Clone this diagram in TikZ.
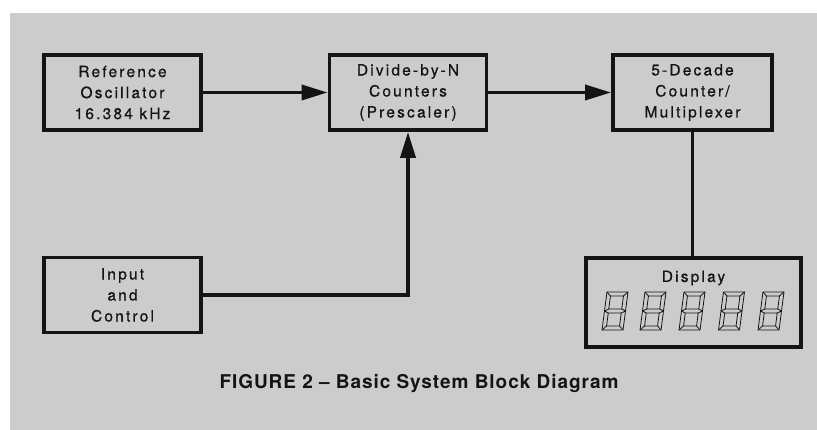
\documentclass[tikz,border=0pt]{standalone}
\usepackage{fontspec}
\setmainfont{TeX Gyre Heros}[LetterSpace=14, UprightFeatures={FakeBold=0.7}]
\newfontfamily\capfont{TeX Gyre Heros}[LetterSpace=5]
\usetikzlibrary{arrows.meta}
\definecolor{paper}{gray}{0.80}
\definecolor{ink}{gray}{0.08}
\tikzset{
  blk/.style={draw=ink, line width=3.8pt, minimum width=157pt, minimum height=75pt,
    align=center, text=ink, font=\fontsize{15.5}{21}\selectfont, inner sep=0pt},
  wire/.style={draw=ink, line width=3.6pt},
  arr/.style={wire, -{Triangle[length=26pt,width=15pt]}},
  seg/.style={draw=ink, line width=0.8pt, line join=round},
}
\newcommand\segdigit[2]{%
  \begin{scope}[shift={(#1,#2)}, xslant=0.13]
    \draw[seg] (-10.5,-19) rectangle (10.5,19);
    \draw[seg] (-6.5,-15) rectangle (6.5,-2);
    \draw[seg] (-6.5,2) rectangle (6.5,15);
    \draw[seg] (-10.5,-19) -- (-6.5,-15) (10.5,-19) -- (6.5,-15)
               (-10.5,19) -- (-6.5,15) (10.5,19) -- (6.5,15)
               (-10.5,0) -- (-6.5,-2) (-10.5,0) -- (-6.5,2)
               (10.5,0) -- (6.5,-2) (10.5,0) -- (6.5,2);
  \end{scope}}
\begin{document}
\begin{tikzpicture}[x=1pt,y=-1pt]
  \useasboundingbox (0,0) rectangle (817,430);
  \fill[white] (0,0) rectangle (817,430);
  \fill[paper] (10,13) rectangle (817,430);

  \node[blk] (ref) at (122.5,92.5) {Reference\\Oscillator\\16.384 kHz};
  \node[blk] (div) at (408,92.5) {Divide-by-N\\Counters\\(Prescaler)};
  \node[blk, minimum width=159pt] (dec) at (692.5,92.5) {5-Decade\\Counter/\\Multiplexer};
  \node[blk] (inp) at (122.5,295) {Input\\and\\Control};
  \node[blk, minimum width=215pt, minimum height=89pt] (disp) at (693.5,302.5) {};
  \node[text=ink, font=\fontsize{15.5}{18}\selectfont, anchor=north] (dispt) at ([yshift=-11pt]disp.north) {Display};

  \foreach \cx in {615,653,692,731.5,771} { \segdigit{\cx}{311} }

  \draw[arr] (ref.east) -- (div.west);
  \draw[arr] (div.east) -- (dec.west);
  \draw[arr] (inp.east) -| (div.south);
  \draw[wire] (dec.south) -- (dec.south |- disp.north);

  \node[text=ink, font=\capfont\bfseries\fontsize{19}{22}\selectfont] (cap) at (419,384)
    {FIGURE 2 \textendash\ Basic System Block Diagram};
\end{tikzpicture}
\end{document}
